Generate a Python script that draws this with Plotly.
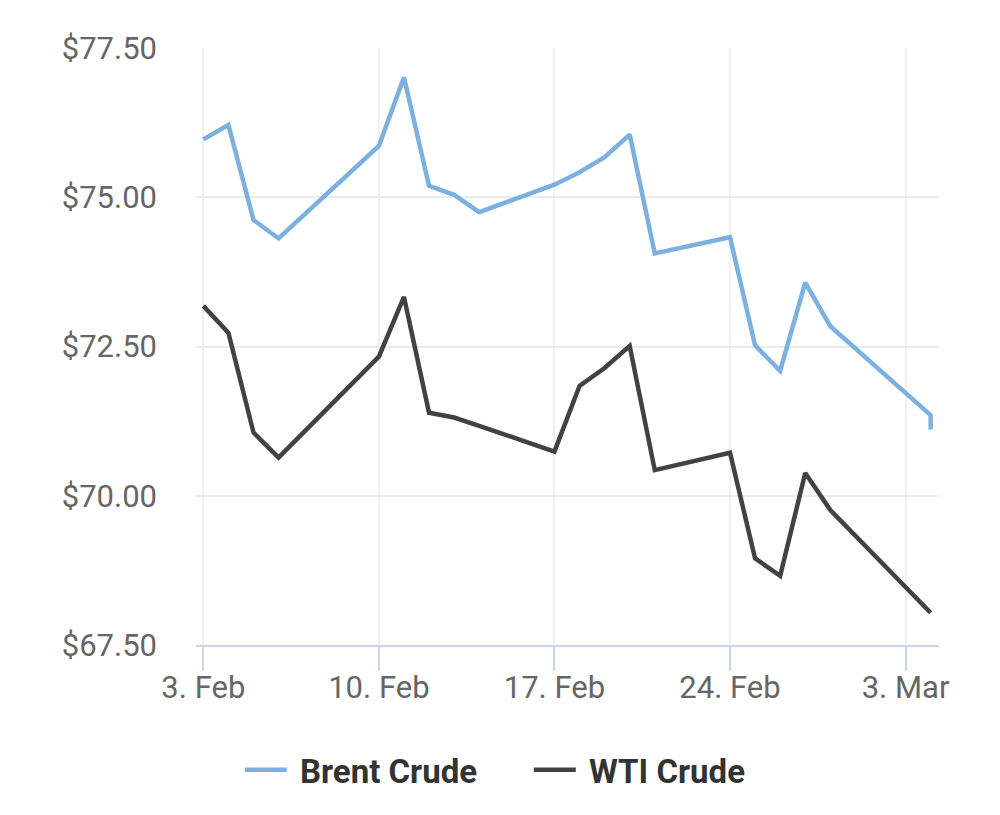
import plotly.graph_objects as go

dates = ["2025-02-03", "2025-02-04", "2025-02-05", "2025-02-06", "2025-02-10",
         "2025-02-11", "2025-02-12", "2025-02-13", "2025-02-14", "2025-02-17",
         "2025-02-18", "2025-02-19", "2025-02-20", "2025-02-21", "2025-02-24",
         "2025-02-25", "2025-02-26", "2025-02-27", "2025-02-28", "2025-03-04"]

brent_dates = dates + ["2025-03-04"]
brent = [75.97, 76.21, 74.62, 74.31, 75.86, 77.01, 75.19, 75.04, 74.75, 75.21,
         75.42, 75.67, 76.05, 74.06, 74.33, 72.52, 72.09, 73.57, 72.84, 71.35, 71.11]

wti_dates = dates
wti = [73.18, 72.73, 71.06, 70.64, 72.33, 73.33, 71.39, 71.31, 71.17, 70.74,
       71.84, 72.14, 72.51, 70.43, 70.72, 68.95, 68.66, 70.38, 69.76, 68.04]

y_ticks = [67.5, 70.0, 72.5, 75.0, 77.5]
y_labels = ["$67.50", "$70.00", "$72.50", "$75.00", "$77.50"]

series_names = ["Brent Crude", "WTI Crude"]

fig = go.Figure()
fig.add_trace(go.Scatter(x=brent_dates, y=brent, mode="lines", name="\u00a0" + series_names[0],
                         line=dict(color="#7cb0e0", width=4.5)))
fig.add_trace(go.Scatter(x=wti_dates, y=wti, mode="lines", name="\u00a0" + series_names[1],
                         line=dict(color="#414146", width=4.5)))

fig.update_layout(
    width=992, height=807,
    margin=dict(l=188, r=61, t=40, b=170),
    paper_bgcolor="white", plot_bgcolor="white",
    font=dict(family="Roboto", color="#666666", size=31),
    showlegend=True,
    legend=dict(orientation="h", xref="container", yref="container",
                x=0.525, xanchor="center", y=0.056, yanchor="middle",
                font=dict(family="Roboto", size=33, color="#333333", weight="bold"),
                itemwidth=42, entrywidth=232, entrywidthmode="pixels",
                traceorder="normal"),
    xaxis=dict(
        type="date",
        range=["2025-02-02 17:00", "2025-03-04 08:00"],
        tick0="2025-02-03", dtick=7 * 86400000, tickformat="%-d. %b",
        showgrid=True, gridcolor="#f0f0f0", gridwidth=1.5,
        showline=True, linecolor="#ccd6eb", linewidth=2,
        ticks="outside", ticklen=24, tickwidth=2, tickcolor="#ccd6eb",
        ticklabelstandoff=-10,
        tickfont=dict(size=31, color="#666666"), zeroline=False,
    ),
    yaxis=dict(
        range=[67.5, 77.5], tickvals=y_ticks, ticktext=y_labels,
        showgrid=True, gridcolor="#ebebeb", gridwidth=1.5,
        zeroline=False, showline=False, ticks="",
        ticklabelstandoff=38,
        tickfont=dict(size=31, color="#666666"),
    ),
)

fig.write_html("out.html")
